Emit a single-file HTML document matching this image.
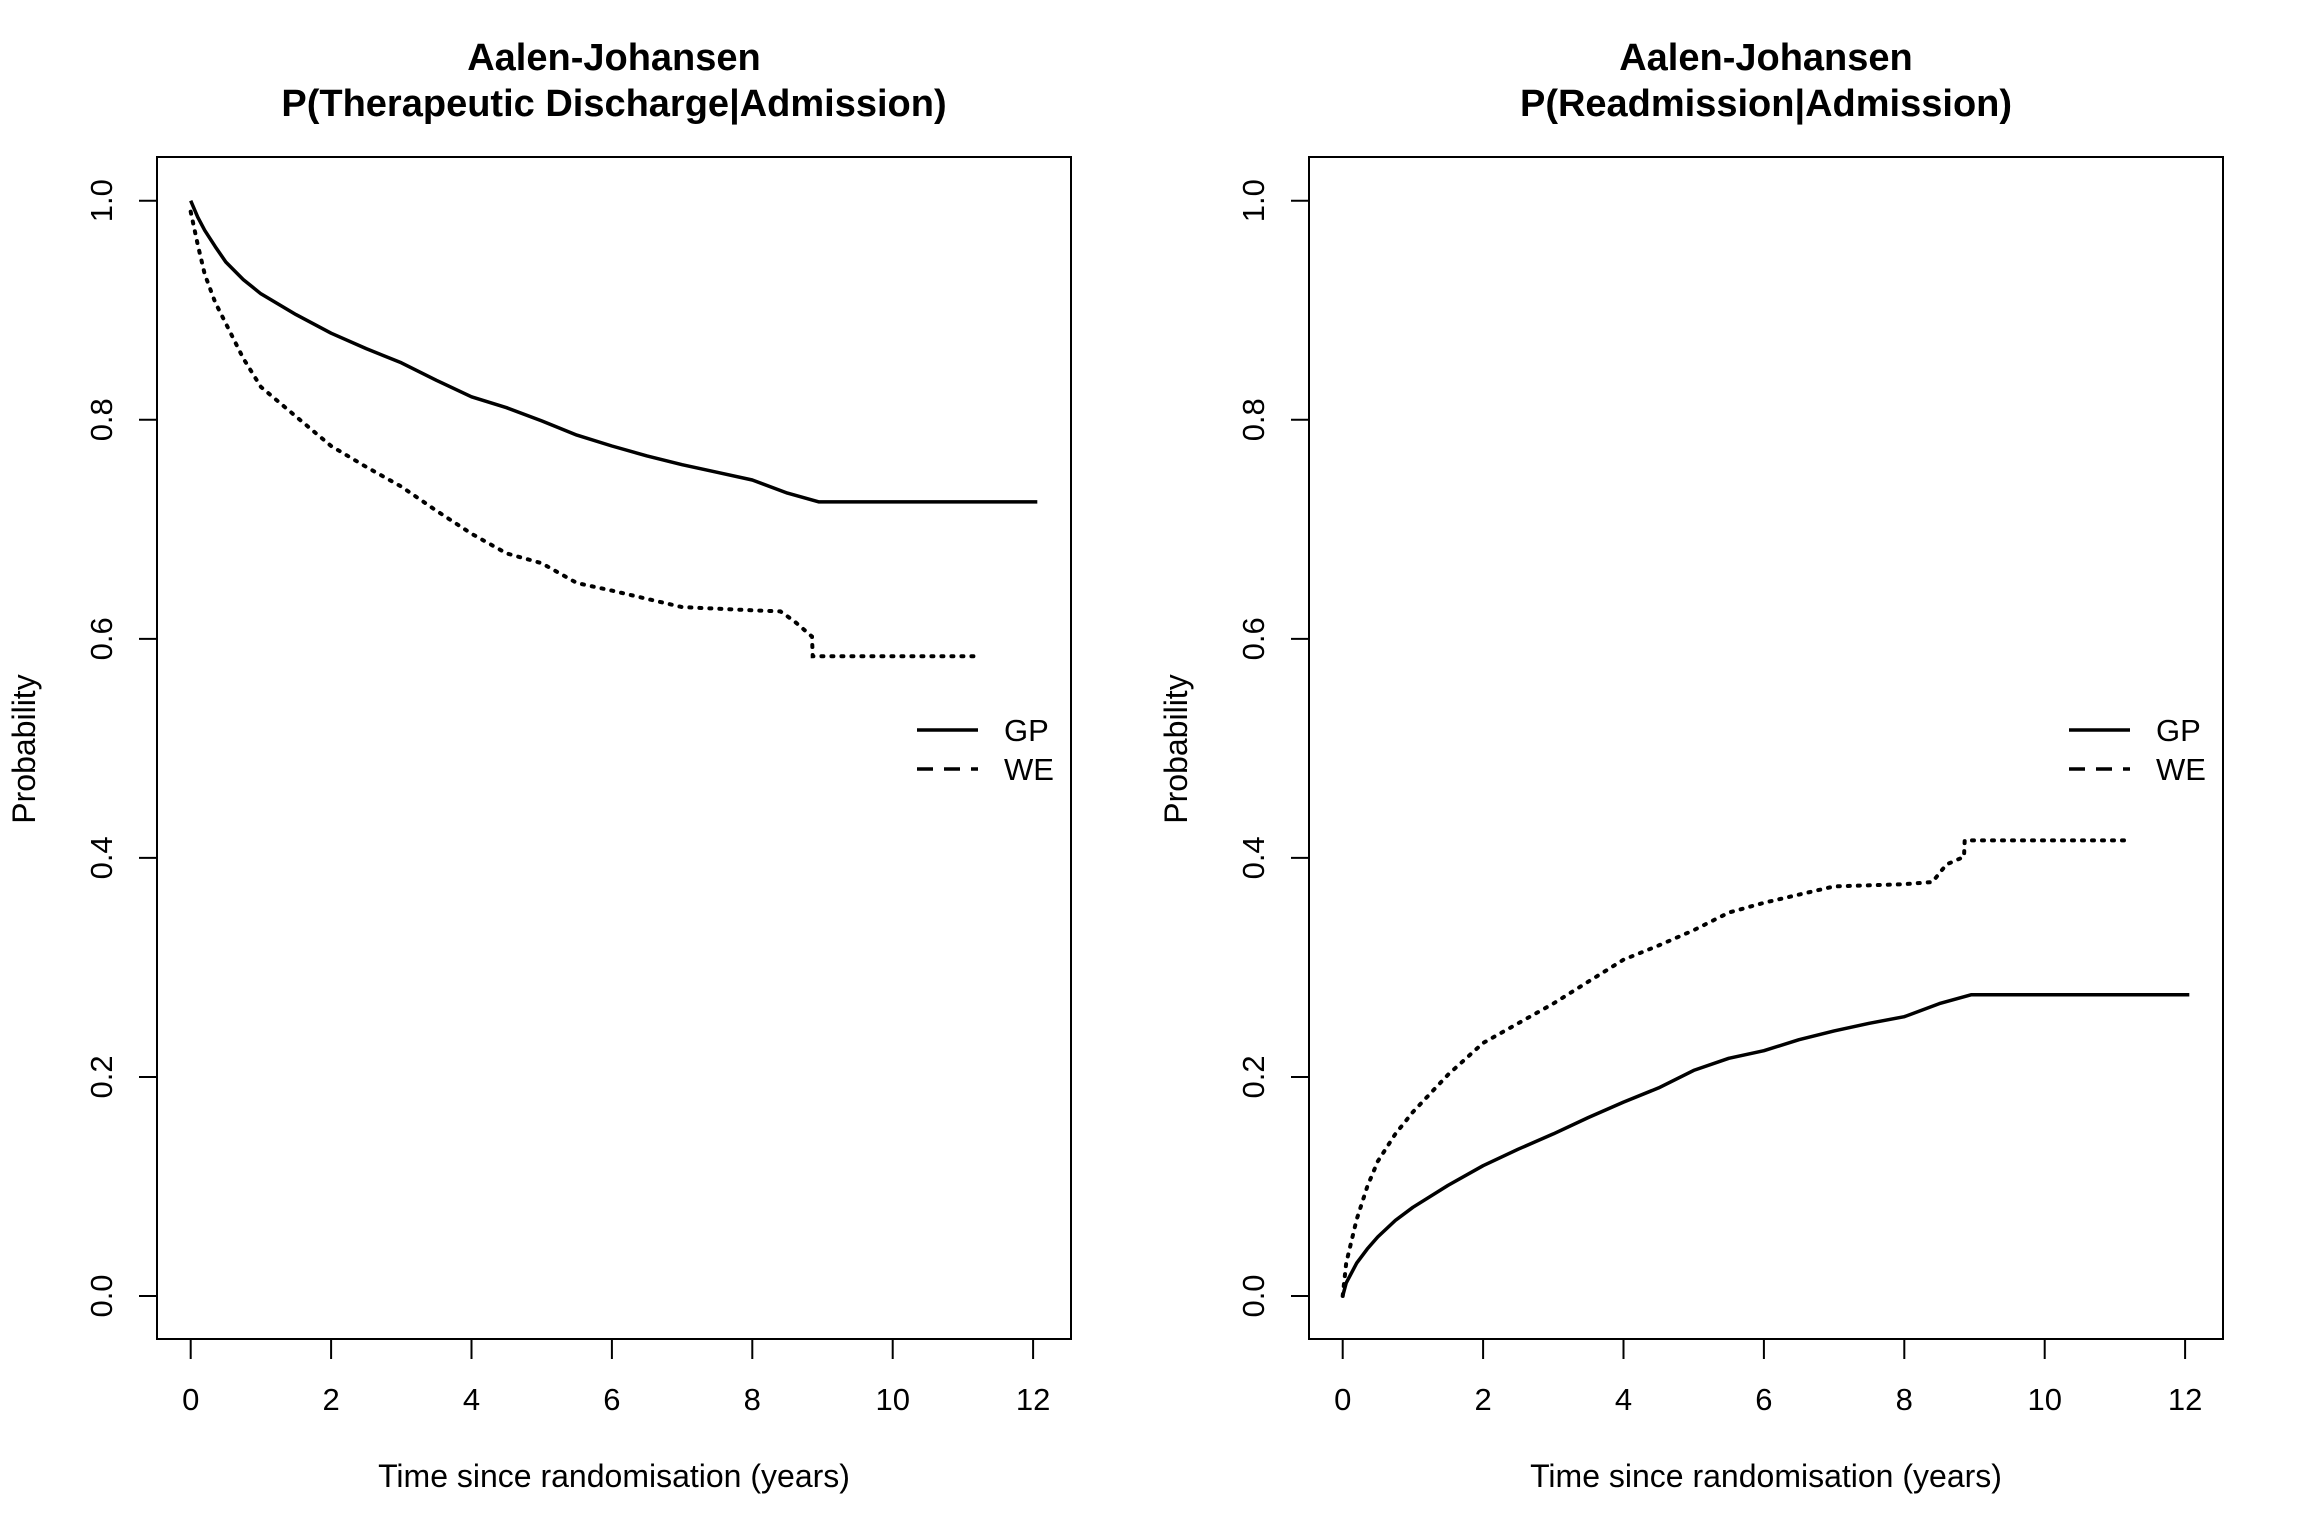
<!DOCTYPE html>
<html><head><meta charset="utf-8"><style>
body{margin:0;background:#fff}
svg{display:block;font-family:"Liberation Sans",Arial,sans-serif}
</style></head><body>
<svg id="chart" width="2304" height="1536" viewBox="0 0 2304 1536" xmlns="http://www.w3.org/2000/svg"></svg>
<script>
const xTicks=[0,2,4,6,8,10,12];
const yTicks=[0.0,0.2,0.4,0.6,0.8,1.0];
const yTickLabels=["0.0","0.2","0.4","0.6","0.8","1.0"];
const panelTitles=["P(Therapeutic Discharge|Admission)","P(Readmission|Admission)"];
const seriesNames=["GP","WE"];
// left panel
const leftGpT=[0,0.1,0.2,0.35,0.5,0.75,1,1.5,2,2.5,3,3.5,4,4.5,5,5.5,6,6.5,7,7.5,8,8.5,8.95,12.06];
const leftGpP=[1.0,0.985,0.973,0.958,0.944,0.928,0.915,0.896,0.879,0.865,0.852,0.836,0.821,0.811,0.799,0.786,0.776,0.767,0.759,0.752,0.745,0.733,0.725,0.725];
const leftWeT=[0,0.1,0.2,0.35,0.5,0.75,1,1.5,2,2.5,3,3.5,4,4.5,5,5.5,6,7,8,8.4,8.6,8.85,8.86,11.16];
const leftWeP=[0.99,0.96,0.933,0.907,0.888,0.856,0.830,0.803,0.776,0.757,0.739,0.717,0.696,0.678,0.669,0.651,0.644,0.629,0.626,0.625,0.616,0.602,0.584,0.584];
// right panel
const rightGpT=[0,0.05,0.2,0.35,0.5,0.75,1,1.5,2,2.5,3,3.5,4,4.5,5,5.5,6,6.5,7,7.5,8,8.5,8.95,12.06];
const rightGpP=[0.0,0.012,0.03,0.043,0.054,0.069,0.081,0.101,0.119,0.134,0.148,0.163,0.177,0.190,0.206,0.217,0.224,0.234,0.242,0.249,0.255,0.267,0.275,0.275];
const rightWeT=[0,0.05,0.2,0.35,0.5,0.75,1,1.5,2,2.5,3,3.5,4,4.5,5,5.5,6,7,8,8.4,8.6,8.85,8.86,11.16];
const rightWeP=[0.0,0.03,0.07,0.1,0.123,0.148,0.168,0.202,0.231,0.249,0.267,0.287,0.307,0.320,0.334,0.350,0.359,0.374,0.376,0.378,0.394,0.401,0.416,0.416];

const svg=document.getElementById('chart');
const NS='http://www.w3.org/2000/svg';
function mk(tag,attrs,parent){const e=document.createElementNS(NS,tag);for(const k in attrs)e.setAttribute(k,attrs[k]);(parent||svg).appendChild(e);return e;}

function panel(off,idx,gpT,gpP,weT,weP){
  const g=mk('g',{});
  
  
  const x=t=>off+190.7+t*70.2;
  const y=p=>1296-p*1095.3;
  const box=mk('rect',{x:off+157,y:157,width:914,height:1182,fill:'none',stroke:'#000','stroke-width':2},g);
  
  
  const t1=mk('text',{x:off+614,y:70,'font-size':38,'font-weight':'bold','text-anchor':'middle'},g);
  t1.textContent='Aalen-Johansen';
  
  
  const t2=mk('text',{x:off+614,y:116,'font-size':38,'font-weight':'bold','text-anchor':'middle'},g);
  t2.textContent=panelTitles[idx];
  
  
  xTicks.forEach(v=>{
    const l=mk('line',{x1:x(v),x2:x(v),y1:1339,y2:1359,stroke:'#000','stroke-width':2},g);
    
    
    const tx=mk('text',{x:x(v),y:1410,'font-size':31,'text-anchor':'middle'},g);
    tx.textContent=String(v);
    
    
  });
  yTicks.forEach((v,i)=>{
    const l=mk('line',{x1:off+139,x2:off+157,y1:y(v),y2:y(v),stroke:'#000','stroke-width':2},g);
    
    
    const tx=mk('text',{x:0,y:0,'font-size':31,'text-anchor':'middle',transform:`translate(${off+112},${y(v)}) rotate(-90)`},g);
    tx.textContent=yTickLabels[i];
    
    
  });
  const xl=mk('text',{x:off+614,y:1487,'font-size':32,'text-anchor':'middle'},g);
  xl.textContent='Time since randomisation (years)';
  
  
  const yl=mk('text',{x:0,y:0,'font-size':32,'text-anchor':'middle',transform:`translate(${off+35},749) rotate(-90)`},g);
  yl.textContent='Probability';
  
  
  const pts=(T,P)=>T.map((t,i)=>x(t).toFixed(1)+','+y(P[i]).toFixed(1)).join(' ');
  const gp=mk('polyline',{points:pts(gpT,gpP),fill:'none',stroke:'#000','stroke-width':3.5,'stroke-linejoin':'round'},g);
  
  
  const we=mk('polyline',{points:pts(weT,weP),fill:'none',stroke:'#000','stroke-width':4,'stroke-dasharray':'2 8','stroke-linecap':'round'},g);
  
  
  const lg=mk('g',{},g);
  
  
  const l1=mk('line',{x1:off+917,x2:off+978,y1:730,y2:730,stroke:'#000','stroke-width':3.5},lg);
  
  
  const lt1=mk('text',{x:off+1004,y:741,'font-size':31},lg);
  lt1.textContent=seriesNames[0];
  
  
  const l2=mk('line',{x1:off+917,x2:off+978,y1:769,y2:769,stroke:'#000','stroke-width':3.5,'stroke-dasharray':'16 11'},lg);
  
  
  const lt2=mk('text',{x:off+1004,y:780,'font-size':31},lg);
  lt2.textContent=seriesNames[1];
  
  
}
panel(0,0,leftGpT,leftGpP,leftWeT,leftWeP);
panel(1152,1,rightGpT,rightGpP,rightWeT,rightWeP);
</script>
</body></html>
